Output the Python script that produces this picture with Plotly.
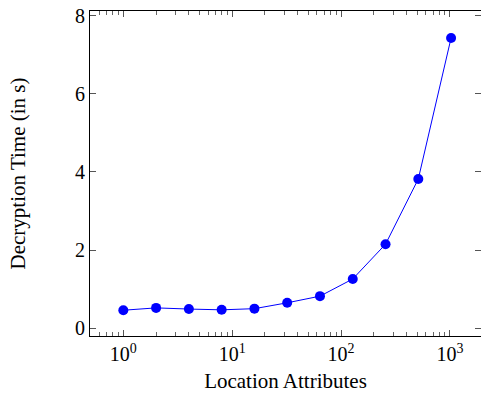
import plotly.graph_objects as go

attributes = [1, 2, 4, 8, 16, 32, 64, 128, 256, 512, 1024]
decrypt_time = [0.46, 0.52, 0.49, 0.47, 0.50, 0.65, 0.82, 1.26, 2.15, 3.82, 7.43]

x_tickvals = [1, 10, 100, 1000]
x_ticktext = ["10<sup>0</sup>", "10<sup>1</sup>", "10<sup>2</sup>", "10<sup>3</sup>"]
y_tickvals = [0, 2, 4, 6, 8]
minor_vals = [m * 10 ** e for e in range(-1, 4) for m in range(2, 10)]

FONT = "Liberation Serif"

fig = go.Figure()
fig.add_trace(go.Scatter(
    x=attributes, y=decrypt_time, mode="lines+markers",
    line=dict(color="#0000ff", width=1),
    marker=dict(color="#0000ff", size=10, symbol="circle"),
    showlegend=False,
))

fig.update_layout(
    width=481, height=394,
    margin=dict(l=90, r=0, t=11, b=58),
    paper_bgcolor="white", plot_bgcolor="white",
    font=dict(family=FONT, size=20, color="black"),
)
fig.update_xaxes(
    type="log", range=[-0.306, 3.285],
    tickvals=x_tickvals, ticktext=x_ticktext,
    ticks="inside", ticklen=6, tickcolor="#555", tickwidth=1,
    minor=dict(ticks="inside", ticklen=4, tickcolor="#666", tickwidth=1, tickvals=minor_vals, showgrid=False),
    showline=True, linecolor="black", linewidth=1, mirror="ticks",
    showgrid=False, zeroline=False,
    title=dict(text="Location Attributes", standoff=9, font=dict(size=21)),
    tickfont=dict(size=20),
)
fig.update_yaxes(
    range=[-0.2, 8.12],
    tickvals=y_tickvals,
    ticks="inside", ticklen=6, tickcolor="#555", tickwidth=1,
    showline=True, linecolor="black", linewidth=1, mirror="ticks",
    showgrid=False, zeroline=False,
    title=dict(text="Decryption Time (in s)", standoff=43, font=dict(size=21)),
    tickfont=dict(size=20),
)

fig.write_html(
    "out.html",
    config={"displayModeBar": False},
    post_script="document.body.style.margin='0';document.body.style.overflow='hidden';",
)
